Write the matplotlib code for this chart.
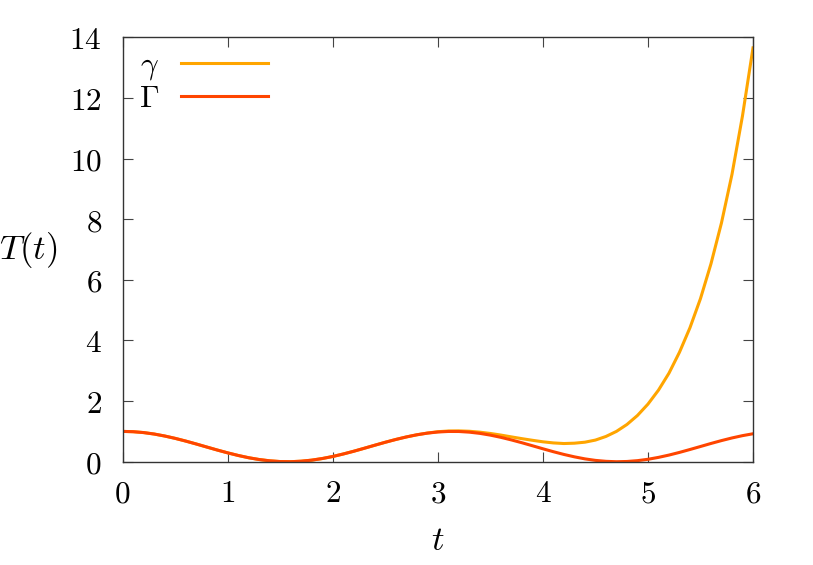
import matplotlib
matplotlib.use("Agg")
import matplotlib.pyplot as plt
from matplotlib import ticker

plt.rcParams['mathtext.fontset'] = 'cm'
plt.rcParams['font.family'] = 'serif'
plt.rcParams['font.serif'] = ['DejaVu Serif']

# sampled time axis, step 0.1
t = [round(0.1 * i, 1) for i in range(61)]

# Gamma curve
Gamma_vals = [1.000, 0.990, 0.961, 0.913, 0.848, 0.770, 0.681, 0.585, 0.485, 0.386,
              0.292, 0.206, 0.131, 0.072, 0.029, 0.005, 0.001, 0.017, 0.052, 0.105,
              0.173, 0.255, 0.346, 0.444, 0.544, 0.642, 0.734, 0.817, 0.888, 0.943,
              0.980, 0.998, 0.997, 0.975, 0.935, 0.877, 0.804, 0.719, 0.626, 0.527,
              0.427, 0.330, 0.240, 0.161, 0.094, 0.044, 0.013, 0.000, 0.008, 0.035,
              0.080, 0.143, 0.219, 0.307, 0.403, 0.502, 0.602, 0.697, 0.784, 0.860,
              0.922]

# gamma curve
gamma_vals = [1.000, 0.990, 0.961, 0.913, 0.848, 0.770, 0.681, 0.585, 0.485, 0.386,
              0.292, 0.206, 0.131, 0.072, 0.029, 0.005, 0.001, 0.017, 0.052, 0.105,
              0.173, 0.255, 0.346, 0.444, 0.544, 0.642, 0.734, 0.817, 0.888, 0.945,
              0.990, 1.013, 1.017, 1.005, 0.975, 0.932, 0.879, 0.819, 0.761, 0.707,
              0.657, 0.620, 0.600, 0.611, 0.644, 0.714, 0.833, 1.000, 1.228, 1.525,
              1.900, 2.360, 2.920, 3.610, 4.420, 5.380, 6.530, 7.880, 9.480, 11.41,
              13.65]

xticks = [0, 1, 2, 3, 4, 5, 6]
yticks = [0, 2, 4, 6, 8, 10, 12, 14]

fig = plt.figure(figsize=(8.13, 5.65), dpi=100)
ax = fig.add_axes([0.1509, 0.1828, 0.7753, 0.7512])

ax.plot(t, gamma_vals, color='#FFA500', lw=2.2, label=r'$\gamma$')
ax.plot(t, Gamma_vals, color='#FF4500', lw=2.2, label=r'$\Gamma$')

ax.set_xlim(0, 6)
ax.set_ylim(0, 14)
ax.set_xticks(xticks)
ax.set_yticks(yticks)
fmt = ticker.FuncFormatter(lambda v, p: r'$%g$' % v)
ax.xaxis.set_major_formatter(fmt)
ax.yaxis.set_major_formatter(fmt)
ax.tick_params(direction='in', length=7, width=0.8, color='#444444',
               top=True, right=True, labelsize=22.5)
ax.tick_params(axis='x', pad=12)
ax.tick_params(axis='y', pad=15)
for s in ax.spines.values():
    s.set_color('#333333')
    s.set_linewidth(1.0)

ax.set_xlabel(r'$t$', fontsize=25, va='center')
ax.xaxis.set_label_coords(0.5, -0.184)
ax.set_ylabel(r'$T(t)$', fontsize=25, rotation=0, ha='center', va='center')
ax.yaxis.set_label_coords(-0.150, 0.5)

ax.legend(loc='upper left', markerfirst=False, frameon=False, fontsize=22.5,
          handlelength=2.78, handletextpad=0.7, labelspacing=0.03,
          borderaxespad=0.0, bbox_to_anchor=(0.006, 1.0))

fig.savefig('out.png', dpi=100)
